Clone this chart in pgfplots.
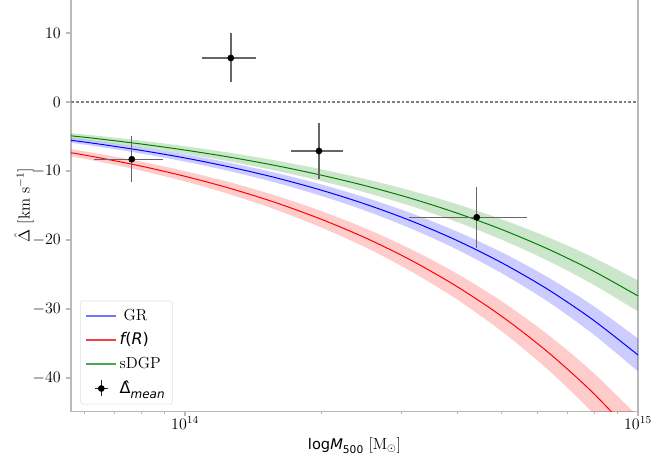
\documentclass[12pt,border=0pt]{standalone}
\usepackage{fontspec}
\usepackage{pgfplots}
\pgfplotsset{compat=1.18}
\usepackage{pgfplotstable}
\usepgfplotslibrary{fillbetween}
\newfontfamily\dejavu{DejaVu Sans}
\definecolor{mgreen}{HTML}{008000}
\definecolor{legred}{HTML}{F04040}

\pgfplotstableread{
M gr grhi grlo fr frhi frlo sd sdhi sdlo
5.495e13 -5.48 -5.12 -5.84 -7.26 -6.75 -7.77 -4.85 -4.46 -5.24
6.310e13 -6.00 -5.61 -6.39 -7.95 -7.39 -8.51 -5.27 -4.85 -5.69
7.943e13 -6.98 -6.53 -7.43 -9.25 -8.60 -9.90 -6.06 -5.58 -6.54
1.000e14 -8.11 -7.58 -8.64 -10.77 -10.02 -11.52 -6.97 -6.41 -7.53
1.259e14 -9.44 -8.83 -10.05 -12.53 -11.65 -13.41 -8.01 -7.37 -8.65
1.585e14 -10.97 -10.26 -11.68 -14.58 -13.56 -15.60 -9.21 -8.47 -9.95
1.995e14 -12.76 -11.93 -13.59 -16.97 -15.78 -18.16 -10.59 -9.74 -11.44
2.512e14 -14.84 -13.88 -15.80 -19.74 -18.36 -21.12 -12.17 -11.20 -13.14
3.162e14 -17.25 -16.13 -18.37 -22.97 -21.36 -24.58 -13.99 -12.87 -15.11
3.981e14 -20.06 -18.76 -21.36 -26.73 -24.86 -28.60 -16.09 -14.80 -17.38
5.012e14 -23.33 -21.81 -24.85 -31.10 -28.92 -33.28 -18.50 -17.02 -19.98
6.310e14 -27.12 -25.36 -28.88 -36.19 -33.66 -38.72 -21.27 -19.57 -22.97
7.943e14 -31.54 -29.49 -33.59 -42.10 -39.15 -45.05 -24.45 -22.49 -26.41
1.000e15 -36.67 -34.29 -39.05 -48.99 -45.56 -52.42 -28.11 -25.86 -30.36
}\curves

\begin{document}
\begin{tikzpicture}
\begin{axis}[
  xmode=log, log basis x=10,
  scale only axis, width=425.25pt, height=309.98pt,
  xmin=5.602e13, xmax=1e15, ymin=-44.9, ymax=15,
  xtick={1e14,1e15},
  minor xtick={6e13,7e13,8e13,9e13,2e14,3e14,4e14,5e14,6e14,7e14,8e14,9e14},
  ytick={-40,-30,-20,-10,0,10},
  xtick pos=bottom, ytick pos=left, tick align=outside,
  major tick length=3.5pt, minor tick length=2pt,
  axis line style={draw=gray!55, line width=0.8pt},
  every tick/.style={gray!55, line width=0.8pt},
  xticklabel style={yshift=4pt},
  xlabel={{\dejavu\fontsize{11}{13}\selectfont log\textit{M}\raisebox{-0.3em}{\fontsize{8}{9}\selectfont 500}} [M$_\odot$]},
  xlabel style={at={(axis description cs:0.5,0)}, anchor=north, yshift=-15pt},
  ylabel={$\hat{\Delta}$ [km s$^{-1}$]},
  ylabel style={at={(axis description cs:-0.083,0.5)}, anchor=center},
  legend style={at={(0.016,0.018)}, anchor=south west, draw=gray!25,
    rounded corners=2pt, inner xsep=4pt, inner ysep=4pt, row sep=3.5pt},
  legend cell align=left,
]
\addplot[name path=grhi, draw=none, forget plot, smooth] table[x=M,y=grhi]{\curves};
\addplot[name path=grlo, draw=none, forget plot, smooth] table[x=M,y=grlo]{\curves};
\addplot[blue, fill opacity=0.2, draw=none, forget plot] fill between[of=grhi and grlo];
\addplot[name path=frhi, draw=none, forget plot, smooth] table[x=M,y=frhi]{\curves};
\addplot[name path=frlo, draw=none, forget plot, smooth] table[x=M,y=frlo]{\curves};
\addplot[red, fill opacity=0.2, draw=none, forget plot] fill between[of=frhi and frlo];
\addplot[name path=sdhi, draw=none, forget plot, smooth] table[x=M,y=sdhi]{\curves};
\addplot[name path=sdlo, draw=none, forget plot, smooth] table[x=M,y=sdlo]{\curves};
\addplot[mgreen, fill opacity=0.2, draw=none, forget plot] fill between[of=sdhi and sdlo];

\addplot[forget plot, gray, dash pattern=on 2.2pt off 1.5pt, line width=0.8pt] coordinates {(5.602e13,0) (1e15,0)};

\addplot[blue, line width=0.75pt, smooth,
  legend image code/.code={\draw[draw=blue!55, line width=1pt] (0pt,0pt) -- (22.5pt,0pt);}] table[x=M,y=gr]{\curves};
\addlegendentry{\hspace{3pt}GR}
\addplot[red, line width=0.75pt, smooth,
  legend image code/.code={\draw[draw=legred, line width=1pt] (0pt,0pt) -- (22.5pt,0pt);}] table[x=M,y=fr]{\curves};
\addlegendentry{{\dejavu\itshape f}{\dejavu(}{\dejavu\itshape R}{\dejavu)}}
\addplot[mgreen, line width=0.75pt, smooth,
  legend image code/.code={\draw[draw=mgreen!70, line width=1pt] (0pt,0pt) -- (22.5pt,0pt);}] table[x=M,y=sd]{\curves};
\addlegendentry{sDGP}

\addplot[only marks, mark=*, mark size=2.3pt, black,
  error bars/.cd, x dir=both, x explicit, y dir=both, y explicit,
  error mark=none, error bar style={line width=1.1pt, black!60},
  /pgfplots/legend image code/.code={\draw[black!85, line width=1pt] (6.5pt,0pt)--(16pt,0pt) (11.25pt,-6pt)--(11.25pt,6pt); \fill[black] (11.25pt,0pt) circle (2.3pt);}]
 coordinates {
 (7.63e13,-8.30) +- (1.33e13,3.35)
 (1.262e14,6.38) +- (0.17e14,3.55)
 (1.976e14,-7.10) +- (0.261e14,4.0)
 (4.406e14,-16.71) +- (1.285e14,4.4)
};
\addlegendentry{{\dejavu Δ̂}\raisebox{-0.3em}{\dejavu\fontsize{9}{10}\selectfont\itshape mean}}
\end{axis}
\pgfresetboundingbox
\path (-53.25pt,-35.5pt) rectangle (435.75pt,308.85pt);
\end{tikzpicture}
\end{document}
